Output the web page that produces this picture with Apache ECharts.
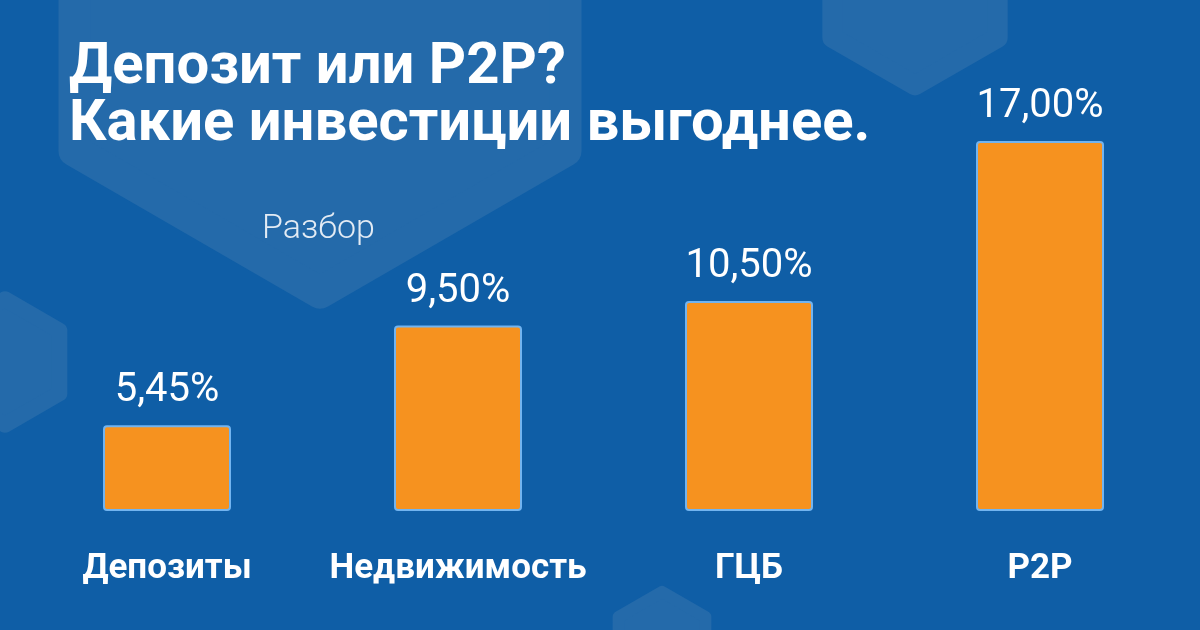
<!DOCTYPE html>
<html>
<head>
<meta charset="utf-8">
<script src="https://cdn.jsdelivr.net/npm/echarts@6/dist/echarts.min.js"></script>
<style>
html,body{margin:0;padding:0;background:#0F5EA6;}
#chart{width:1200px;height:630px;}
</style>
</head>
<body>
<div id="chart"></div>
<script>
const categories = ['Депозиты', 'Недвижимость', 'ГЦБ', 'P2P'];
const returns = [5.45, 9.50, 10.50, 17.00];
const titleLines = ['Депозит или P2P?', 'Какие инвестиции выгоднее.'];
const subtitle = 'Разбор';

const BG = '#0F5EA6';
const HEX = '#246AAA';

function hexPoints(cx, cy, R) {
  const pts = [];
  for (let i = 0; i < 6; i++) {
    const a = (-90 + 60 * i) * Math.PI / 180;
    pts.push([cx + R * Math.cos(a), cy + R * Math.sin(a)]);
  }
  return pts;
}
function roundedHex(cx, cy, R, r) {
  return {
    type: 'polygon', silent: true, z: -10,
    shape: { points: hexPoints(cx, cy, R - r / Math.cos(Math.PI / 6)) },
    style: { fill: HEX, stroke: HEX, lineWidth: 2 * r, lineJoin: 'round' }
  };
}

const chart = echarts.init(document.getElementById('chart'), null, { renderer: 'canvas' });
chart.setOption({
  backgroundColor: BG,
  animation: false,
  title: [
    {
      text: titleLines.join('\n'),
      left: 64, top: 35,
      textStyle: { color: '#ffffff', fontFamily: 'Roboto', fontWeight: 'bold', fontSize: 58, lineHeight: 57 }
    },
    {
      text: subtitle,
      left: 257, top: 207,
      textStyle: { color: '#E3EBF4', fontFamily: 'Roboto', fontWeight: 300, fontSize: 34 }
    }
  ],
  graphic: [
    roundedHex(320, 9, 302, 16),
    roundedHex(915, -10, 107, 10),
    roundedHex(5, 362, 72, 8),
    roundedHex(662, 642, 57, 6)
  ],
  grid: { left: 21.5, right: 14.5, top: 141, bottom: 120 },
  xAxis: {
    type: 'category',
    data: categories,
    axisLine: { show: false },
    axisTick: { show: false },
    axisLabel: { interval: 0, color: '#ffffff', fontFamily: 'Roboto', fontWeight: 'bold', fontSize: 35, margin: 42 }
  },
  yAxis: {
    type: 'value', min: 2, max: 17,
    show: false,
    splitLine: { show: false }
  },
  series: [{
    type: 'bar',
    data: returns,
    barWidth: 128,
    itemStyle: {
      color: '#F6921F',
      borderColor: '#72B4F0',
      borderWidth: 2,
      borderRadius: 3
    },
    label: {
      show: true,
      position: 'top',
      distance: 14,
      color: '#ffffff',
      fontFamily: 'Roboto',
      fontSize: 40,
      formatter: p => p.value.toFixed(2).replace('.', ',') + '%'
    }
  }]
});
</script>
</body>
</html>
